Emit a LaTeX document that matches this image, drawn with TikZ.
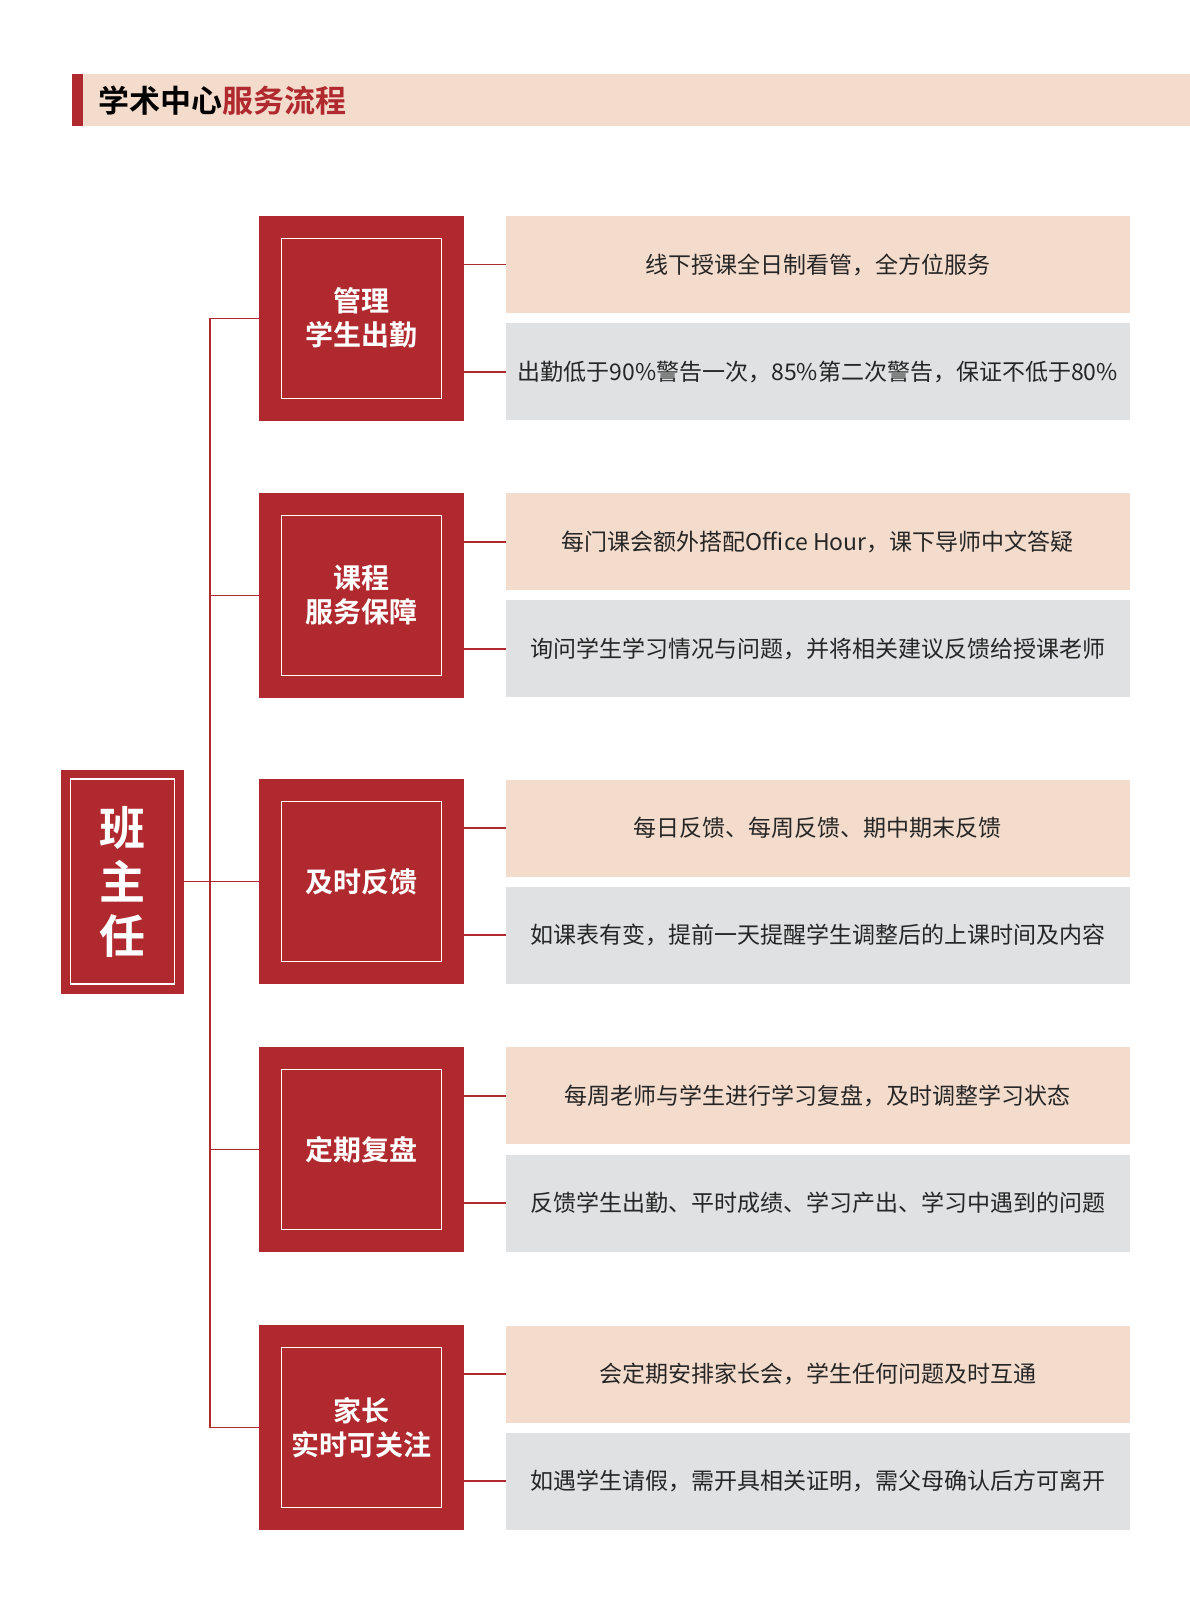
\documentclass[tikz,border=0pt]{standalone}
\usepackage{fontspec}
\setmainfont{Noto Sans CJK SC}
\newfontfamily\cjkb{Noto Sans CJK SC Bold}
\definecolor{myred}{HTML}{B0292E}
\definecolor{mypink}{HTML}{F4DCCD}
\definecolor{mygrey}{HTML}{E0E1E2}
\begin{document}
\begin{tikzpicture}[x=1.03pt,y=-1.03pt,
  redbox/.style={fill=myred,draw=none,minimum width=205pt,minimum height=205pt,inner sep=0},
  inbox/.style={draw=white,line width=1.5pt,minimum width=160pt,minimum height=160pt,text=white,font=\fontsize{28}{34}\selectfont\cjkb,align=center},
  pinkbox/.style={fill=mypink,minimum width=624pt,minimum height=97pt,font=\fontsize{23}{28}\selectfont,text=black!85},
  greybox/.style={fill=mygrey,minimum width=624pt,minimum height=97pt,font=\fontsize{23}{28}\selectfont,text=black!85},
  conn/.style={draw=myred,line width=1.5pt}]
\useasboundingbox (0,0) rectangle (1155,1568);
\fill[mypink] (70,72) rectangle (1155,122);
\fill[myred] (70,72) rectangle (81,122);
\node[anchor=west,font=\fontsize{31}{36}\selectfont\cjkb] (title) at (92,98) {学术中心\textcolor{myred}{服务流程}};
% left
\node[fill=myred,minimum width=123pt,minimum height=224pt,inner sep=0] (L) at (119,856) {};
\node[draw=white,line width=1.5pt,minimum width=104pt,minimum height=205pt,text=white,font=\fontsize{46}{54}\selectfont\cjkb,align=center] (Li) at (119,856) {班\\主\\任};
\coordinate (top) at (204,309);
\coordinate (bot) at (204,1386);
\draw[conn] (top) -- (bot);
\draw[conn] (L.east) -- (204,856);
\foreach \n/\y/\t/\a/\b in {
 1/309/{管理\\学生出勤}/{线下授课全日制看管，全方位服务}/{出勤低于90\%警告一次，85\%第二次警告，保证不低于80\%},
 2/578/{课程\\服务保障}/{每门课会额外搭配Office Hour，课下导师中文答疑}/{询问学生学习情况与问题，并将相关建议反馈给授课老师},
 3/856/{及时反馈}/{每日反馈、每周反馈、期中期末反馈}/{如课表有变，提前一天提醒学生调整后的上课时间及内容},
 4/1116/{定期复盘}/{每周老师与学生进行学习复盘，及时调整学习状态}/{反馈学生出勤、平时成绩、学习产出、学习中遇到的问题},
 5/1386/{家长\\实时可关注}/{会定期安排家长会，学生任何问题及时互通}/{如遇学生请假，需开具相关证明，需父母确认后方可离开}}{
 \node[redbox] (m\n) at (351,\y) {};
 \node[inbox] (mi\n) at (351,\y) {\t};
 \node[pinkbox] (p\n) at (794,\y-52) {\a};
 \node[greybox] (g\n) at (794,\y+52) {\b};
 \draw[conn] (204,\y) -- (m\n.west);
 \draw[conn] (m\n.east |- p\n.west) -- (p\n.west);
 \draw[conn] (m\n.east |- g\n.west) -- (g\n.west);
}
\end{tikzpicture}
\end{document}
